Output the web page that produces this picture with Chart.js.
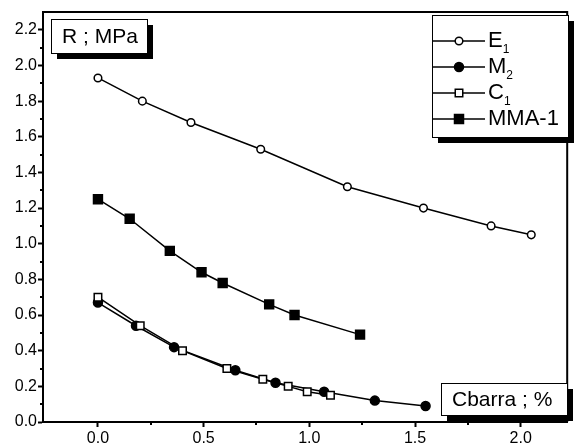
<!DOCTYPE html>
<html>
<head>
<meta charset="utf-8">
<script src="https://cdn.jsdelivr.net/npm/chart.js@4"></script>
<style>
  body { margin: 0; background: #fff; }
  #chart { display: block; }
</style>
</head>
<body>
<canvas id="chart" width="575" height="448"></canvas>
<script>
// data (x = Cbarra %, y = R MPa)
const e1X = [0, 0.21, 0.44, 0.77, 1.18, 1.54, 1.86, 2.05];
const e1Y = [1.93, 1.80, 1.68, 1.53, 1.32, 1.20, 1.10, 1.05];
const m2X = [0, 0.18, 0.36, 0.65, 0.84, 1.07, 1.31, 1.55];
const m2Y = [0.67, 0.54, 0.42, 0.29, 0.22, 0.17, 0.12, 0.09];
const c1X = [0, 0.20, 0.40, 0.61, 0.78, 0.90, 0.99, 1.10];
const c1Y = [0.70, 0.54, 0.40, 0.30, 0.24, 0.20, 0.17, 0.15];
const mmaX = [0, 0.15, 0.34, 0.49, 0.59, 0.81, 0.93, 1.24];
const mmaY = [1.25, 1.14, 0.96, 0.84, 0.78, 0.66, 0.60, 0.49];

const xTicks = [0, 0.5, 1.0, 1.5, 2.0];
const yTicks = [0, 0.2, 0.4, 0.6, 0.8, 1.0, 1.2, 1.4, 1.6, 1.8, 2.0, 2.2];

const FONT = '"Liberation Sans", Arial, sans-serif';

const pts = (xs, ys) => xs.map((x, i) => ({ x: x, y: ys[i] }));

const legendItems = [
  { main: 'E', sub: '1', style: 'circle', fill: '#fff' },
  { main: 'M', sub: '2', style: 'circle', fill: '#000' },
  { main: 'C', sub: '1', style: 'rect', fill: '#fff' },
  { main: 'MMA-1', sub: '', style: 'rect', fill: '#000' },
];

function shadowBox(ctx, x, y, w, h, off) {
  ctx.fillStyle = '#000';
  ctx.fillRect(x + off, y + off, w, h);
  ctx.fillStyle = '#fff';
  ctx.fillRect(x, y, w, h);
  ctx.strokeStyle = '#000';
  ctx.lineWidth = 1;
  ctx.strokeRect(x + 0.5, y + 0.5, w, h);
}

const decor = {
  id: 'decor',
  beforeDatasetsDraw(chart) {
    const ctx = chart.ctx;
    const a = chart.chartArea;
    const xs = chart.scales.x, ys = chart.scales.y;
    ctx.save();
    // frame top + right
    ctx.strokeStyle = '#000';
    ctx.lineWidth = 2;
    ctx.beginPath();
    ctx.moveTo(a.left, a.top);
    ctx.lineTo(a.right, a.top);
    ctx.lineTo(a.right, a.bottom);
    ctx.stroke();
    // minor ticks
    ctx.beginPath();
    for (let v = 0.1; v < 2.3; v += 0.2) {
      const py = Math.round(ys.getPixelForValue(v));
      ctx.moveTo(a.left, py);
      ctx.lineTo(a.left - 3, py);
    }
    for (let v = 0.25; v < 2.22; v += 0.5) {
      const px = Math.round(xs.getPixelForValue(v));
      ctx.moveTo(px, a.bottom);
      ctx.lineTo(px, a.bottom + 3);
    }
    ctx.stroke();
    ctx.restore();
  },
  afterDraw(chart) {
    const ctx = chart.ctx;
    ctx.save();
    ctx.textBaseline = 'middle';
    ctx.textAlign = 'left';

    // axis title boxes
    shadowBox(ctx, 51, 19, 96, 34, 6);
    ctx.fillStyle = '#000';
    ctx.font = '21px ' + FONT;
    ctx.fillText('R ; MPa', 62, 37);

    shadowBox(ctx, 441, 383, 126, 32, 6);
    ctx.fillStyle = '#000';
    ctx.fillText('Cbarra ; %', 452, 400);

    // legend
    shadowBox(ctx, 432, 15, 136, 122, 6);
    legendItems.forEach((it, i) => {
      const y = 41 + i * 26;
      ctx.strokeStyle = '#000';
      ctx.lineWidth = 1.5;
      ctx.beginPath();
      ctx.moveTo(433, y);
      ctx.lineTo(485, y);
      ctx.stroke();
      ctx.fillStyle = it.fill;
      ctx.beginPath();
      if (it.style === 'circle') {
        const r = it.fill === '#000' ? 4.5 : 3.8;
        ctx.arc(459, y, r, 0, Math.PI * 2);
      } else {
        const s = it.fill === '#000' ? 9 : 7.5;
        ctx.rect(459 - s / 2, y - s / 2, s, s);
      }
      ctx.fill();
      ctx.stroke();
      ctx.fillStyle = '#000';
      ctx.font = '22px ' + FONT;
      ctx.fillText(it.main, 488, y);
      if (it.sub) {
        const w = ctx.measureText(it.main).width;
        ctx.font = '12px ' + FONT;
        ctx.fillText(it.sub, 488 + w, y + 9);
      }
    });
    ctx.restore();
  }
};

const base = {
  showLine: true,
  borderColor: '#000',
  borderWidth: 1.5,
  pointBorderColor: '#000',
  pointBorderWidth: 1.5,
  tension: 0,
};

new Chart(document.getElementById('chart'), {
  type: 'scatter',
  data: {
    datasets: [
      Object.assign({}, base, { label: 'E1', data: pts(e1X, e1Y), pointStyle: 'circle', pointRadius: 3.8, pointBackgroundColor: '#fff', order: 0 }),
      Object.assign({}, base, { label: 'C1', data: pts(c1X, c1Y), pointStyle: 'rect', pointRadius: 5.3, pointBackgroundColor: '#fff', order: 1 }),
      Object.assign({}, base, { label: 'M2', data: pts(m2X, m2Y), pointStyle: 'circle', pointRadius: 4.5, pointBackgroundColor: '#000', order: 2 }),
      Object.assign({}, base, { label: 'MMA-1', data: pts(mmaX, mmaY), pointStyle: 'rect', pointRadius: 6.3, pointBackgroundColor: '#000', order: 3 }),
    ]
  },
  options: {
    responsive: false,
    animation: false,
    layout: { padding: { top: 12, right: 3, left: 0, bottom: 0 } },
    plugins: { legend: { display: false }, tooltip: { enabled: false } },
    scales: {
      x: {
        type: 'linear',
        min: -0.26,
        max: 2.22,
        afterFit: s => { s.height = 26; },
        afterBuildTicks: s => { s.ticks = xTicks.map(v => ({ value: v })); },
        border: { color: '#000', width: 2 },
        grid: { drawOnChartArea: false, drawTicks: true, tickLength: 5, color: '#000', tickWidth: 2 },
        ticks: { color: '#000', padding: 2, font: { family: FONT, size: 16 }, callback: v => v.toFixed(1) }
      },
      y: {
        type: 'linear',
        min: 0,
        max: 2.3,
        afterFit: s => { s.width = 43; },
        afterBuildTicks: s => { s.ticks = yTicks.map(v => ({ value: v })); },
        border: { color: '#000', width: 2 },
        grid: { drawOnChartArea: false, drawTicks: true, tickLength: 5, color: '#000', tickWidth: 2 },
        ticks: { color: '#000', padding: 1, font: { family: FONT, size: 16 }, callback: v => v.toFixed(1) }
      }
    }
  },
  plugins: [decor]
});
</script>
</body>
</html>
